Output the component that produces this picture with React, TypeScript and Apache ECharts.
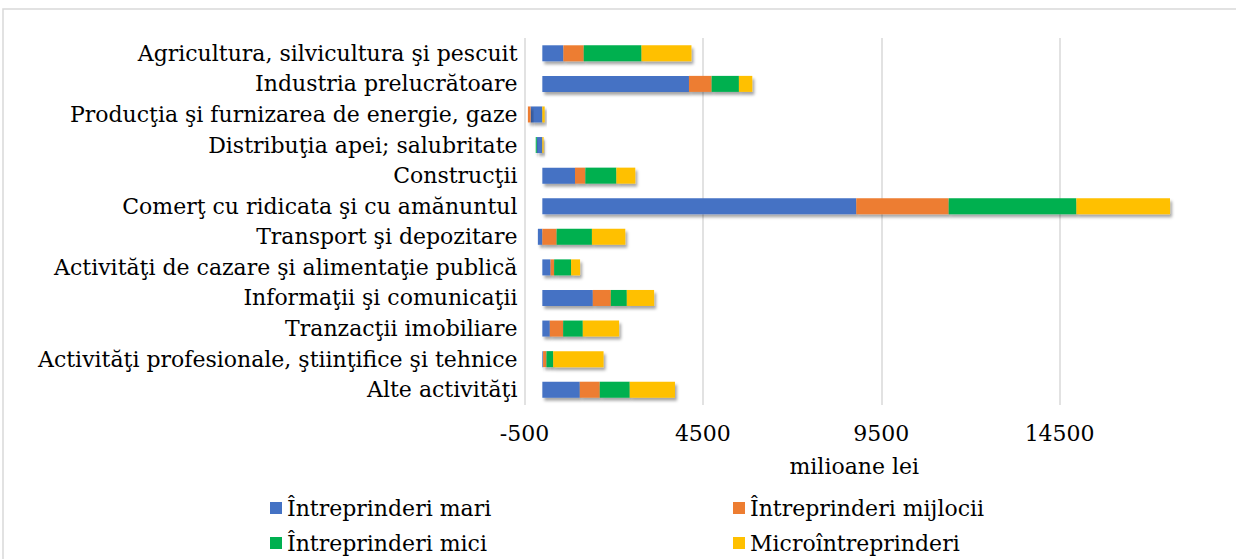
import React, { useEffect, useRef } from "react";
import * as echarts from "echarts";

const categories = [
  "Agricultura, silvicultura şi pescuit",
  "Industria prelucrătoare",
  "Producţia şi furnizarea de energie, gaze",
  "Distribuţia apei; salubritate",
  "Construcţii",
  "Comerţ cu ridicata şi cu amănuntul",
  "Transport şi depozitare",
  "Activităţi de cazare şi alimentaţie publică",
  "Informaţii şi comunicaţii",
  "Tranzacţii imobiliare",
  "Activităţi profesionale, ştiinţifice şi tehnice",
  "Alte activităţi",
];

const seriesNames = [
  "Întreprinderi mari",
  "Întreprinderi mijlocii",
  "Întreprinderi mici",
  "Microîntreprinderi",
];

const mari = [590, 4110, -330, -155, 915, 8800, -125, 230, 1415, 210, 20, 1050];
const mijlocii = [570, 635, -75, 0, 290, 2590, 400, 100, 505, 373, 95, 560];
const mici = [1620, 765, 0, -30, 870, 3580, 990, 476, 448, 551, 190, 840];
const micro = [1400, 375, 65, 35, 530, 2625, 935, 252, 765, 1017, 1411, 1268];

const axisMin = -500;
const axisMax = 19500;
const axisInterval = 5000;
const axisTitle = "milioane lei";

const colors = ["#4472C4", "#ED7D31", "#00B050", "#FFC000"];

const FONT = "DejaVu Serif";

export default function App() {
  const ref = useRef<HTMLDivElement>(null);

  useEffect(() => {
    if (!ref.current) return;
    const chart = echarts.init(ref.current, null, { renderer: "svg" });
    const values = [mari, mijlocii, mici, micro];
    const legendBase = {
      orient: "vertical",
      top: 496,
      padding: 0,
      itemWidth: 12,
      itemHeight: 12,
      itemGap: 11,
      icon: "rect",
      textStyle: { fontFamily: FONT, fontSize: 22, color: "#000", lineHeight: 24 },
    };
    const option: any = {
      animation: false,
      backgroundColor: "#ffffff",
      color: colors,
      textStyle: { fontFamily: FONT, color: "#000" },
      graphic: [
        {
          type: "rect",
          shape: { x: 3, y: 9, width: 1300, height: 600 },
          style: { fill: "none", stroke: "#d9d9d9", lineWidth: 1.5 },
          silent: true,
        },
      ],
      grid: {
        left: 524.5,
        right: -2,
        top: 38,
        bottom: 154,
        containLabel: false,
        outerBoundsMode: "none",
      },
      xAxis: {
        type: "value",
        min: axisMin,
        max: axisMax,
        interval: axisInterval,
        axisLine: { show: false },
        axisTick: { show: false },
        axisLabel: {
          fontFamily: FONT,
          fontSize: 22,
          color: "#000",
          margin: 17,
          showMaxLabel: false,
          formatter: (v: number) => String(v),
        },
        splitLine: { show: true, lineStyle: { color: "#d9d9d9", width: 1.5 } },
        name: axisTitle,
        nameLocation: "middle",
        nameGap: 50,
        nameTextStyle: {
          fontFamily: FONT,
          fontSize: 22,
          color: "#000",
          padding: [0, 54, 0, 0],
        },
      },
      yAxis: {
        type: "category",
        data: categories,
        inverse: true,
        axisLine: { show: false },
        axisTick: { show: false },
        axisLabel: {
          fontFamily: FONT,
          fontSize: 22,
          color: "#000",
          margin: 7,
        },
        splitLine: { show: false },
      },
      legend: [
        { ...legendBase, left: 270, data: [seriesNames[0], seriesNames[2]] },
        { ...legendBase, left: 733, data: [seriesNames[1], seriesNames[3]] },
      ],
      series: seriesNames.map((name, i) => ({
        name,
        type: "bar",
        stack: "total",
        barWidth: 16,
        data: values[i],
        itemStyle: {
          color: colors[i],
          shadowColor: "rgba(0,0,0,0.35)",
          shadowBlur: 3,
          shadowOffsetX: 2,
          shadowOffsetY: 3,
        },
        emphasis: { disabled: true },
      })),
    };
    chart.setOption(option);
    return () => chart.dispose();
  }, []);

  return (
    <div
      ref={ref}
      style={{ position: "fixed", left: 0, top: 0, width: 1236, height: 559 }}
    />
  );
}
